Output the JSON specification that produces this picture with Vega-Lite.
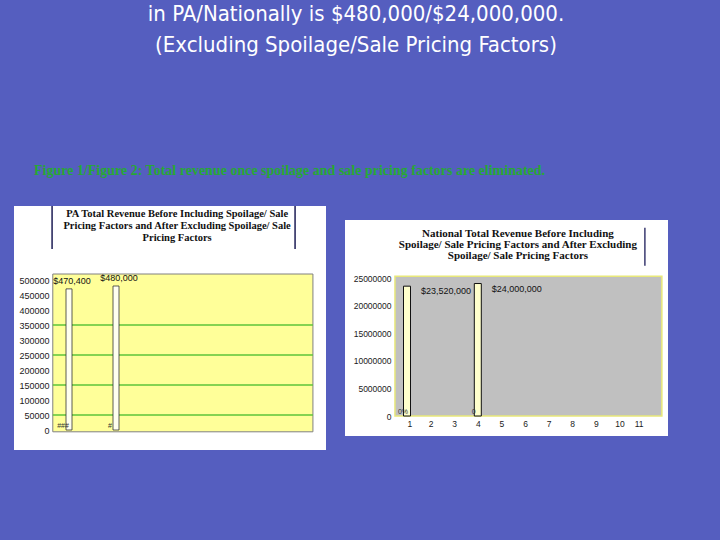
{
  "$schema": "https://vega.github.io/schema/vega-lite/v6.json",
  "background": "#555ebf",
  "padding": {"left": 14, "top": 3, "right": 52, "bottom": 90},
  "config": {"view": {"stroke": null}, "axis": {"labelFont": "Liberation Sans", "labelColor": "#1a1a1a", "labelOverlap": false, "labelSeparation": 0}},
  "title": {
    "text": ["in PA/Nationally is $480,000/$24,000,000.", "(Excluding Spoilage/Sale Pricing Factors)"],
    "color": "#ffffff",
    "font": "DejaVu Sans Condensed, DejaVu Sans",
    "fontSize": 22,
    "fontWeight": "normal",
    "lineHeight": 31,
    "anchor": "middle",
    "dx": 15,
    "offset": 107
  },
  "vconcat": [
    {
      "title": {
        "text": "Figure 1/Figure 2:  Total revenue once spoilage and sale pricing factors are eliminated.",
        "color": "#27a834",
        "font": "Liberation Serif",
        "fontSize": 14,
        "fontWeight": "bold",
        "anchor": "start",
        "dx": 20,
        "offset": 27
      },
      "spacing": 19,
      "center": true,
      "hconcat": [
        {
          "width": 312,
          "height": 244,
          "view": {"fill": "#ffffff", "stroke": null},
          "layer": [
            {
              "data": {"values": [{}]},
              "mark": {"type": "rect", "fill": "#ffff99", "stroke": "#808080", "strokeWidth": 1},
              "encoding": {
                "x": {"datum": 0.31, "type": "quantitative", "axis": null},
                "x2": {"datum": 11.38},
                "y": {"datum": -6000, "type": "quantitative", "axis": {"orient": "left", "offset": -38, "values": [0, 50000, 100000, 150000, 200000, 250000, 300000, 350000, 400000, 450000, 500000], "format": "d", "grid": false, "domain": false, "ticks": false, "labelPadding": 3, "labelFontSize": 9, "labelOverlap": false, "title": null, "zindex": 2}},
                "y2": {"datum": 520000}
              }
            },
            {
              "data": {"values": [{"g": 50000}, {"g": 150000}, {"g": 250000}, {"g": 350000}]},
              "mark": {"type": "rule", "color": "#5cc43a", "strokeWidth": 1.5},
              "encoding": {
                "y": {"field": "g", "type": "quantitative", "axis": {"orient": "left", "offset": -38, "values": [0, 50000, 100000, 150000, 200000, 250000, 300000, 350000, 400000, 450000, 500000], "format": "d", "grid": false, "domain": false, "ticks": false, "labelPadding": 3, "labelFontSize": 9, "labelOverlap": false, "title": null, "zindex": 2}},
                "x": {"datum": 0.31, "type": "quantitative", "axis": null},
                "x2": {"datum": 11.38}
              }
            },
            {
              "data": {"values": [{"n": 1, "v": 470400, "label": "$470,400"}, {"n": 3, "v": 480000, "label": "$480,000"}]},
              "mark": {"type": "bar", "orient": "vertical", "size": 6, "fill": "#fffff0", "stroke": "#333333", "strokeWidth": 0.8},
              "encoding": {
                "x": {"field": "n", "type": "quantitative", "scale": {"domain": [0, 12], "range": [31.5, 313.5], "nice": false, "zero": false, "padding": 0}, "axis": null},
                "y": {"field": "v", "type": "quantitative", "scale": {"domain": [0, 500000], "range": [224, 74], "nice": false, "zero": false, "padding": 0},
                  "axis": {"orient": "left", "offset": -38, "values": [0, 50000, 100000, 150000, 200000, 250000, 300000, 350000, 400000, 450000, 500000], "format": "d", "grid": false, "domain": false, "ticks": false, "labelPadding": 3, "labelFontSize": 9, "labelOverlap": false, "title": null, "zindex": 2}}
              }
            },
            {
              "data": {"values": [{"n": 1, "v": 470400, "label": "$470,400"}, {"n": 3, "v": 480000, "label": "$480,000"}]},
              "mark": {"type": "text", "font": "Liberation Sans", "fontSize": 9, "color": "#111111", "dy": -8, "dx": 3, "align": "center", "baseline": "middle"},
              "encoding": {
                "x": {"field": "n", "type": "quantitative", "axis": null},
                "y": {"field": "v", "type": "quantitative", "axis": {"orient": "left", "offset": -38, "values": [0, 50000, 100000, 150000, 200000, 250000, 300000, 350000, 400000, 450000, 500000], "format": "d", "grid": false, "domain": false, "ticks": false, "labelPadding": 3, "labelFontSize": 9, "labelOverlap": false, "title": null, "zindex": 2}},
                "text": {"field": "label"}
              }
            },
            {
              "data": {"values": [{"n": 1, "v": 0, "t": "###"}, {"n": 3, "v": 0, "t": "#"}]},
              "mark": {"type": "text", "font": "Liberation Sans", "fontSize": 7, "color": "#333333", "dy": -1, "dx": -6, "align": "center", "baseline": "bottom"},
              "encoding": {
                "x": {"field": "n", "type": "quantitative", "axis": null},
                "y": {"field": "v", "type": "quantitative", "axis": {"orient": "left", "offset": -38, "values": [0, 50000, 100000, 150000, 200000, 250000, 300000, 350000, 400000, 450000, 500000], "format": "d", "grid": false, "domain": false, "ticks": false, "labelPadding": 3, "labelFontSize": 9, "labelOverlap": false, "title": null, "zindex": 2}},
                "text": {"field": "t"}
              }
            },
            {
              "data": {"values": [{}]},
              "mark": {"type": "text", "text": ["PA Total Revenue Before Including Spoilage/ Sale", "Pricing Factors and After Excluding Spoilage/ Sale", "Pricing Factors"], "font": "Liberation Serif", "fontWeight": "bold", "fontSize": 10.5, "lineHeight": 12, "baseline": "top", "align": "center", "color": "#111111"},
              "encoding": {
                "x": {"datum": 5.6, "type": "quantitative", "axis": null},
                "y": {"datum": 738000, "type": "quantitative", "axis": {"orient": "left", "offset": -38, "values": [0, 50000, 100000, 150000, 200000, 250000, 300000, 350000, 400000, 450000, 500000], "format": "d", "grid": false, "domain": false, "ticks": false, "labelPadding": 3, "labelFontSize": 9, "labelOverlap": false, "title": null, "zindex": 2}}
              }
            },
            {
              "data": {"values": [{}]},
              "mark": {"type": "rule", "color": "#1d1d55", "strokeWidth": 1.5},
              "encoding": {
                "x": {"datum": 0.28, "type": "quantitative", "axis": null},
                "y": {"datum": 603000, "type": "quantitative", "axis": {"orient": "left", "offset": -38, "values": [0, 50000, 100000, 150000, 200000, 250000, 300000, 350000, 400000, 450000, 500000], "format": "d", "grid": false, "domain": false, "ticks": false, "labelPadding": 3, "labelFontSize": 9, "labelOverlap": false, "title": null, "zindex": 2}},
                "y2": {"datum": 746667}
              }
            },
            {
              "data": {"values": [{}]},
              "mark": {"type": "rule", "color": "#1d1d55", "strokeWidth": 1.5},
              "encoding": {
                "x": {"datum": 10.62, "type": "quantitative", "axis": null},
                "y": {"datum": 603000, "type": "quantitative", "axis": {"orient": "left", "offset": -38, "values": [0, 50000, 100000, 150000, 200000, 250000, 300000, 350000, 400000, 450000, 500000], "format": "d", "grid": false, "domain": false, "ticks": false, "labelPadding": 3, "labelFontSize": 9, "labelOverlap": false, "title": null, "zindex": 2}},
                "y2": {"datum": 746667}
              }
            }
          ]
        },
        {
          "width": 323,
          "height": 216,
          "view": {"fill": "#ffffff", "stroke": null},
          "layer": [
            {
              "data": {"values": [{}]},
              "mark": {"type": "rect", "fill": "#c0c0c0", "stroke": "#e8e87a", "strokeWidth": 1.5},
              "encoding": {
                "x": {"datum": 0.49, "type": "quantitative", "axis": {"orient": "bottom", "offset": -20, "values": [1, 2, 3, 4, 5, 6, 7, 8, 9, 10, 11], "format": "d", "grid": false, "domain": false, "ticks": false, "labelPadding": 3, "labelFontSize": 8.5, "labelOverlap": false, "title": null, "zindex": 2}},
                "x2": {"datum": 11.8},
                "y": {"datum": 0, "type": "quantitative", "axis": {"orient": "left", "offset": -48, "values": [0, 5000000, 10000000, 15000000, 20000000, 25000000], "format": "d", "grid": false, "domain": false, "ticks": false, "labelPadding": 2, "labelFontSize": 8.5, "labelOverlap": false, "title": null, "zindex": 2}},
                "y2": {"datum": 25300000}
              }
            },
            {
              "data": {"values": [{"n": 1, "v": 23520000, "label": "$23,520,000"}, {"n": 4, "v": 24000000, "label": "$24,000,000"}]},
              "mark": {"type": "bar", "orient": "vertical", "size": 7, "fill": "#ffffcc", "stroke": "#111111", "strokeWidth": 1},
              "encoding": {
                "x": {"field": "n", "type": "quantitative", "scale": {"domain": [1, 11], "range": [62, 298], "nice": false, "zero": false, "padding": 0},
                  "axis": {"orient": "bottom", "offset": -20, "values": [1, 2, 3, 4, 5, 6, 7, 8, 9, 10, 11], "format": "d", "grid": false, "domain": false, "ticks": false, "labelPadding": 3, "labelFontSize": 8.5, "labelOverlap": false, "title": null, "zindex": 2}},
                "y": {"field": "v", "type": "quantitative", "scale": {"domain": [0, 25000000], "range": [196, 58], "nice": false, "zero": false, "padding": 0},
                  "axis": {"orient": "left", "offset": -48, "values": [0, 5000000, 10000000, 15000000, 20000000, 25000000], "format": "d", "grid": false, "domain": false, "ticks": false, "labelPadding": 2, "labelFontSize": 8.5, "labelOverlap": false, "title": null, "zindex": 2}}
              }
            },
            {
              "data": {"values": [{"n": 1, "v": 23520000, "label": "$23,520,000"}, {"n": 4, "v": 24000000, "label": "$24,000,000"}]},
              "mark": {"type": "text", "font": "Liberation Sans", "fontSize": 9, "color": "#111111", "dy": 5, "dx": 14, "align": "left", "baseline": "middle"},
              "encoding": {
                "x": {"field": "n", "type": "quantitative", "axis": {"orient": "bottom", "offset": -20, "values": [1, 2, 3, 4, 5, 6, 7, 8, 9, 10, 11], "format": "d", "grid": false, "domain": false, "ticks": false, "labelPadding": 3, "labelFontSize": 8.5, "labelOverlap": false, "title": null, "zindex": 2}},
                "y": {"field": "v", "type": "quantitative", "axis": {"orient": "left", "offset": -48, "values": [0, 5000000, 10000000, 15000000, 20000000, 25000000], "format": "d", "grid": false, "domain": false, "ticks": false, "labelPadding": 2, "labelFontSize": 8.5, "labelOverlap": false, "title": null, "zindex": 2}},
                "text": {"field": "label"}
              }
            },
            {
              "data": {"values": [{"n": 1, "v": 0, "t": "0%"}, {"n": 4, "v": 0, "t": "0"}]},
              "mark": {"type": "text", "font": "Liberation Sans", "fontSize": 7, "color": "#333333", "dy": -1, "dx": -4, "align": "center", "baseline": "bottom"},
              "encoding": {
                "x": {"field": "n", "type": "quantitative", "axis": {"orient": "bottom", "offset": -20, "values": [1, 2, 3, 4, 5, 6, 7, 8, 9, 10, 11], "format": "d", "grid": false, "domain": false, "ticks": false, "labelPadding": 3, "labelFontSize": 8.5, "labelOverlap": false, "title": null, "zindex": 2}},
                "y": {"field": "v", "type": "quantitative", "axis": {"orient": "left", "offset": -48, "values": [0, 5000000, 10000000, 15000000, 20000000, 25000000], "format": "d", "grid": false, "domain": false, "ticks": false, "labelPadding": 2, "labelFontSize": 8.5, "labelOverlap": false, "title": null, "zindex": 2}},
                "text": {"field": "t"}
              }
            },
            {
              "data": {"values": [{}]},
              "mark": {"type": "text", "text": ["National Total Revenue Before Including", "Spoilage/ Sale Pricing Factors and After Excluding", "Spoilage/ Sale Pricing Factors"], "font": "Liberation Serif", "fontWeight": "bold", "fontSize": 11, "lineHeight": 11, "baseline": "top", "align": "center", "color": "#111111"},
              "encoding": {
                "x": {"datum": 5.7, "type": "quantitative", "axis": {"orient": "bottom", "offset": -20, "values": [1, 2, 3, 4, 5, 6, 7, 8, 9, 10, 11], "format": "d", "grid": false, "domain": false, "ticks": false, "labelPadding": 3, "labelFontSize": 8.5, "labelOverlap": false, "title": null, "zindex": 2}},
                "y": {"datum": 34000000, "type": "quantitative", "axis": {"orient": "left", "offset": -48, "values": [0, 5000000, 10000000, 15000000, 20000000, 25000000], "format": "d", "grid": false, "domain": false, "ticks": false, "labelPadding": 2, "labelFontSize": 8.5, "labelOverlap": false, "title": null, "zindex": 2}}
              }
            },
            {
              "data": {"values": [{}]},
              "mark": {"type": "rule", "color": "#3a3a70", "strokeWidth": 1.5},
              "encoding": {
                "x": {"datum": 11.08, "type": "quantitative", "axis": {"orient": "bottom", "offset": -20, "values": [1, 2, 3, 4, 5, 6, 7, 8, 9, 10, 11], "format": "d", "grid": false, "domain": false, "ticks": false, "labelPadding": 3, "labelFontSize": 8.5, "labelOverlap": false, "title": null, "zindex": 2}},
                "y": {"datum": 27200000, "type": "quantitative", "axis": {"orient": "left", "offset": -48, "values": [0, 5000000, 10000000, 15000000, 20000000, 25000000], "format": "d", "grid": false, "domain": false, "ticks": false, "labelPadding": 2, "labelFontSize": 8.5, "labelOverlap": false, "title": null, "zindex": 2}},
                "y2": {"datum": 34100000}
              }
            }
          ]
        }
      ]
    }
  ]
}
